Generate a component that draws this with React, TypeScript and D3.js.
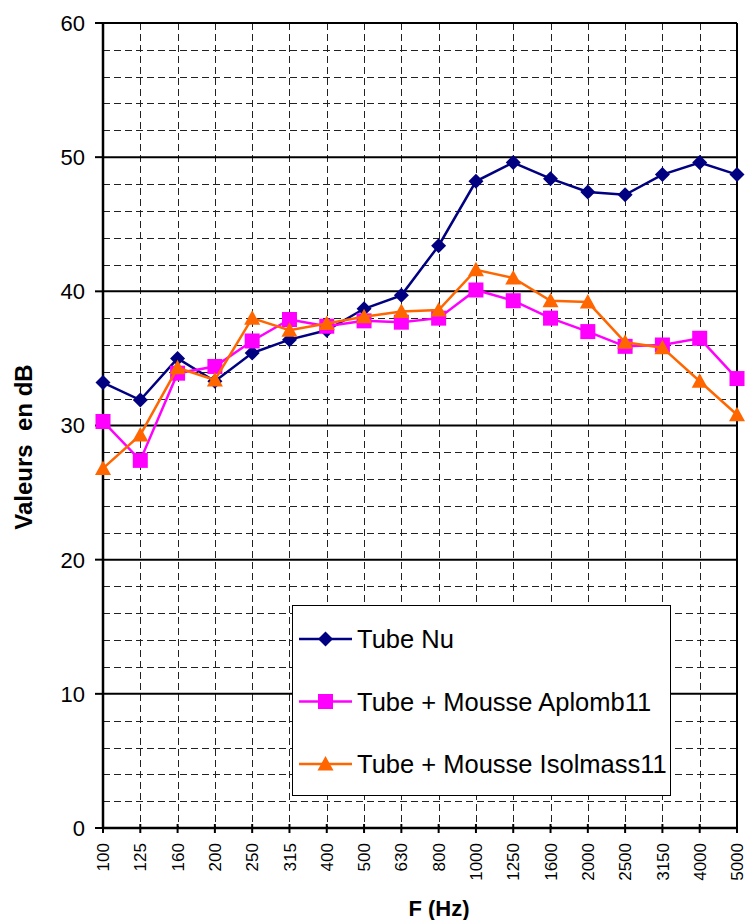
import React, { useRef, useEffect } from 'react';
import * as d3 from 'd3';

const freqs = ['100', '125', '160', '200', '250', '315', '400', '500', '630', '800', '1000', '1250', '1600', '2000', '2500', '3150', '4000', '5000'];
const tubeNu = [33.2, 31.9, 35.0, 33.3, 35.4, 36.4, 37.1, 38.7, 39.7, 43.4, 48.2, 49.6, 48.4, 47.4, 47.2, 48.7, 49.6, 48.7];
const aplomb = [30.3, 27.4, 33.9, 34.4, 36.3, 37.9, 37.4, 37.8, 37.7, 38.0, 40.1, 39.3, 38.0, 37.0, 35.9, 36.0, 36.5, 33.5];
const isolmass = [26.8, 29.3, 34.3, 33.4, 38.0, 37.1, 37.6, 38.1, 38.5, 38.6, 41.6, 41.0, 39.3, 39.2, 36.2, 35.8, 33.3, 30.8];
const seriesNames = ['Tube Nu', 'Tube + Mousse Aplomb11', 'Tube + Mousse Isolmass11'];
const yTicks = [0, 10, 20, 30, 40, 50, 60];

const FONT = '"Liberation Sans", Arial, sans-serif';

const markerPath = (kind) => {
  if (kind === 'diamond') return 'M0,-7.5L7.5,0L0,7.5L-7.5,0Z';
  if (kind === 'square') return 'M-7.5,-7.5H7.5V7.5H-7.5Z';
  return 'M0,-8L8,6.5L-8,6.5Z';
};

const App = () => {
  const svgRef = useRef(null);

  useEffect(() => {
    const svg = d3.select(svgRef.current);
    svg.selectAll('*').remove();

    const x = d3.scalePoint().domain(freqs).range([103, 737]);
    const y = d3.scaleLinear().domain([0, 60]).range([828, 23]);
    const [x0, x1] = x.range();

    // minor dashed grid, every 2 dB
    const minor = d3.range(2, 60, 2).filter(v => v % 10 !== 0);
    svg.append('g')
      .selectAll('line')
      .data(minor)
      .join('line')
      .attr('x1', x0).attr('x2', x1)
      .attr('y1', d => Math.round(y(d)) + 0.5).attr('y2', d => Math.round(y(d)) + 0.5)
      .attr('stroke', '#222')
      .attr('stroke-dasharray', '7,4');

    // vertical dashed grid at each category
    svg.append('g')
      .selectAll('line')
      .data(freqs.slice(1, -1))
      .join('line')
      .attr('x1', d => Math.round(x(d)) + 0.5).attr('x2', d => Math.round(x(d)) + 0.5)
      .attr('y1', y(60)).attr('y2', y(0))
      .attr('stroke', '#222')
      .attr('stroke-dasharray', '7,4');

    // major grid
    svg.append('g')
      .selectAll('line')
      .data(yTicks.slice(1))
      .join('line')
      .attr('x1', x0).attr('x2', x1)
      .attr('y1', d => y(d)).attr('y2', d => y(d))
      .attr('stroke', '#000')
      .attr('stroke-width', 2);

    // right border
    svg.append('line')
      .attr('x1', x1).attr('x2', x1)
      .attr('y1', y(60)).attr('y2', y(0))
      .attr('stroke', '#000').attr('stroke-width', 2);

    // y axis
    svg.append('line')
      .attr('x1', x0).attr('x2', x0)
      .attr('y1', y(60) - 1).attr('y2', y(0) + 1)
      .attr('stroke', '#000').attr('stroke-width', 2.5);
    svg.append('g')
      .selectAll('line')
      .data(yTicks)
      .join('line')
      .attr('x1', x0 - 8).attr('x2', x0)
      .attr('y1', d => y(d)).attr('y2', d => y(d))
      .attr('stroke', '#000').attr('stroke-width', 2);
    svg.append('g')
      .selectAll('text')
      .data(yTicks)
      .join('text')
      .attr('x', 85)
      .attr('y', d => y(d))
      .attr('dy', '0.36em')
      .attr('text-anchor', 'end')
      .attr('font-family', FONT)
      .attr('font-size', 22)
      .text(d => d);

    // x axis
    svg.append('line')
      .attr('x1', x0 - 1).attr('x2', x1 + 1)
      .attr('y1', y(0)).attr('y2', y(0))
      .attr('stroke', '#000').attr('stroke-width', 2.5);
    svg.append('g')
      .selectAll('line')
      .data(freqs)
      .join('line')
      .attr('x1', d => x(d)).attr('x2', d => x(d))
      .attr('y1', y(0) - 4).attr('y2', y(0) + 5)
      .attr('stroke', '#000').attr('stroke-width', 2);
    svg.append('g')
      .selectAll('text')
      .data(freqs)
      .join('text')
      .attr('transform', d => `translate(${x(d)},843) rotate(-90)`)
      .attr('dy', '0.36em')
      .attr('text-anchor', 'end')
      .attr('font-family', FONT)
      .attr('font-size', 17)
      .text(d => d);

    // axis titles
    svg.append('text')
      .attr('x', 439).attr('y', 916)
      .attr('text-anchor', 'middle')
      .attr('font-family', FONT)
      .attr('font-weight', 'bold')
      .attr('font-size', 22)
      .text('F (Hz)');
    svg.append('text')
      .attr('transform', 'translate(32,447) rotate(-90)')
      .attr('text-anchor', 'middle')
      .attr('font-family', FONT)
      .attr('font-weight', 'bold')
      .attr('font-size', 24)
      .style('white-space', 'pre')
      .text('Valeurs  en dB');

    // series
    const series = [
      { name: seriesNames[0], values: tubeNu, color: '#000080', marker: 'diamond' },
      { name: seriesNames[1], values: aplomb, color: '#FF00FF', marker: 'square' },
      { name: seriesNames[2], values: isolmass, color: '#FF6600', marker: 'triangle' },
    ];

    const line = d3.line()
      .x((d, i) => x(freqs[i]))
      .y(d => y(d));

    series.forEach(s => {
      svg.append('path')
        .datum(s.values)
        .attr('fill', 'none')
        .attr('stroke', s.color)
        .attr('stroke-width', 2.5)
        .attr('d', line);
      svg.append('g')
        .selectAll('path')
        .data(s.values)
        .join('path')
        .attr('transform', (d, i) => `translate(${x(freqs[i])},${y(d)})`)
        .attr('d', markerPath(s.marker))
        .attr('fill', s.color);
    });

    // legend
    const lg = svg.append('g');
    lg.append('rect')
      .attr('x', 292.5).attr('y', 605.5)
      .attr('width', 378).attr('height', 190)
      .attr('fill', '#fff')
      .attr('stroke', '#000');
    series.forEach((s, i) => {
      const cy = 639 + i * 62.5;
      lg.append('line')
        .attr('x1', 299).attr('x2', 352)
        .attr('y1', cy).attr('y2', cy)
        .attr('stroke', s.color).attr('stroke-width', 2.5);
      lg.append('path')
        .attr('transform', `translate(325.5,${cy})`)
        .attr('d', markerPath(s.marker))
        .attr('fill', s.color);
      lg.append('text')
        .attr('x', 357).attr('y', cy)
        .attr('dy', '0.36em')
        .attr('font-family', FONT)
        .attr('font-size', 25.5)
        .text(s.name);
    });
  }, []);

  return (
    <svg
      ref={svgRef}
      width={745}
      height={920}
      style={{ position: 'absolute', left: 0, top: 0, background: '#fff' }}
    />
  );
};

export default App;
